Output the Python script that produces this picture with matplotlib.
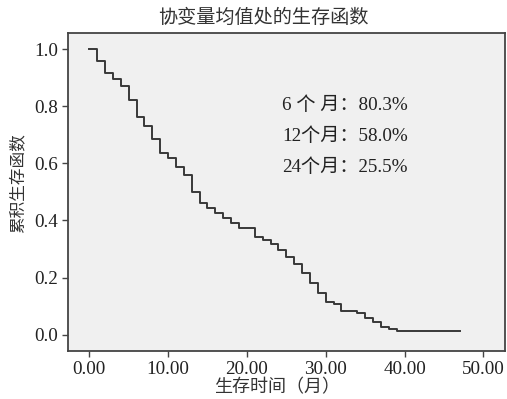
import matplotlib
matplotlib.use("Agg")
import matplotlib.pyplot as plt
import numpy as np

# survival curve (months, cumulative survival)
event_months = [0, 1, 2, 3, 4, 5, 6, 7, 8, 9, 10, 11, 12, 13, 14, 15, 16, 17, 18, 19,
                21, 22, 23, 24, 25, 26, 27, 28, 29, 30, 31, 32, 34, 35, 36, 37, 38, 39]
survival = [1.000, 0.958, 0.917, 0.894, 0.870, 0.820, 0.762, 0.731, 0.684, 0.637,
            0.620, 0.588, 0.558, 0.500, 0.460, 0.442, 0.425, 0.407, 0.390, 0.372,
            0.341, 0.330, 0.316, 0.296, 0.273, 0.247, 0.215, 0.180, 0.146, 0.116,
            0.106, 0.084, 0.076, 0.058, 0.044, 0.028, 0.020, 0.013]
last_month = 47

x_ticks = [0, 10, 20, 30, 40, 50]
y_ticks = [0.0, 0.2, 0.4, 0.6, 0.8, 1.0]

notes = ["6 个 月：80.3%", "12个月：58.0%", "24个月：25.5%"]

title = "协变量均值处的生存函数"
xlabel = "生存时间（月）"
ylabel = "累积生存函数"

serif = ["Liberation Serif", "Noto Sans CJK SC", "DejaVu Sans"]
cjk = ["Noto Sans CJK SC", "Liberation Serif", "DejaVu Sans"]

fig = plt.figure(figsize=(5.07, 3.99), dpi=100)
ax = fig.add_axes([68 / 507, 1 - 351 / 399, (505 - 68) / 507, (351 - 33) / 399])
ax.set_facecolor("#f0f0f0")

xs = event_months + [last_month]
ys = survival + [survival[-1]]
ax.step(xs, ys, where="post", color="#383838", lw=1.4)

ax.set_xlim(-2.7, 52.75)
ax.set_ylim(-0.057, 1.056)
ax.set_xticks(x_ticks)
ax.set_xticklabels(["%.2f" % v for v in x_ticks], family=serif, fontsize=13.8)
ax.set_yticks(y_ticks)
ax.set_yticklabels(["%.1f" % v for v in y_ticks], family=serif, fontsize=13.8)
ax.tick_params(direction="out", length=4, width=1.0, color="#444444", pad=3,
               labelcolor="#222222")
for s in ax.spines.values():
    s.set_color("#444444")
    s.set_linewidth(1.3)

for i, txt in enumerate(notes):
    fig.text(282 / 507, 1 - (105.5 + 31 * i) / 399, txt, family=serif,
             fontsize=13.8, va="center", ha="left", color="#222222")

fig.text(263 / 507, 1 - 17 / 399, title, family=cjk, fontsize=13.8,
         ha="center", va="center", color="#333333")
fig.text(277 / 507, 1 - 387 / 399, xlabel, family=cjk, fontsize=13,
         ha="center", va="center", color="#333333")
fig.text(18 / 507, 1 - 183 / 399, ylabel, family=cjk, fontsize=12,
         ha="center", va="center", rotation=90, color="#333333")

fig.savefig("out.png", dpi=100)
